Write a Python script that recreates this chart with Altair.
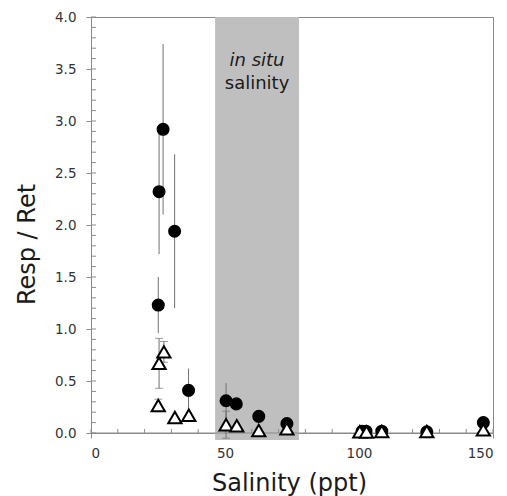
import altair as alt
import pandas as pd

# Filled circles (Resp/Ret) with symmetric error
circ_x = [26.9, 25.4, 31.2, 25.1, 36.4, 50.4, 54.2, 62.6, 73.1, 101.2, 102.6, 108.5, 125.3, 146.4]
circ_y = [2.92, 2.32, 1.94, 1.23, 0.41, 0.31, 0.28, 0.16, 0.09, 0.017, 0.017, 0.017, 0.012, 0.10]
circ_e = [0.82, 0.60, 0.74, 0.27, 0.21, 0.17, 0, 0, 0, 0, 0, 0, 0, 0]

# Open triangles with symmetric error
tri_x = [25.4, 27.2, 25.1, 31.3, 36.5, 50.4, 54.4, 62.6, 73.1, 100.3, 102.8, 108.5, 125.3, 146.4]
tri_y = [0.67, 0.78, 0.265, 0.15, 0.17, 0.08, 0.07, 0.025, 0.04, 0.012, 0.01, 0.015, 0.015, 0.03]
tri_e = [0.24, 0.10, 0.06, 0, 0, 0.13, 0, 0, 0, 0, 0, 0, 0, 0]

# Shaded "in situ salinity" band
shade_lo, shade_hi = 46.3, 77.6

y_major = [0, 0.5, 1.0, 1.5, 2.0, 2.5, 3.0, 3.5, 4.0]
y_minor = [round(i * 0.1, 1) for i in range(0, 41)]
x_major = [0, 50, 100, 150]
x_minor = list(range(0, 151, 10))

W, H = 402, 416
FONT = "DejaVu Sans"
AX = "#8a8a8a"
EB = "#707070"

dc = pd.DataFrame({"x": circ_x, "y": circ_y, "e": circ_e})
dc["lo"] = dc["y"] - dc["e"]
dc["hi"] = dc["y"] + dc["e"]
dce = dc[dc["e"] > 0]

dt = pd.DataFrame({"x": tri_x, "y": tri_y, "e": tri_e})
dt["lo"] = dt["y"] - dt["e"]
dt["hi"] = dt["y"] + dt["e"]
dte = dt[dt["e"] > 0]

xs = alt.Scale(domain=[0, 150], nice=False)
ys = alt.Scale(domain=[0, 4], nice=False)

xaxis = alt.Axis(values=x_major, grid=False, tickSize=5, domainColor=AX, tickColor=AX,
                 labelFont=FONT, labelFontSize=13.5, labelColor="#333333", labelPadding=8,
                 title="Salinity (ppt)", titleFont=FONT, titleFontSize=24, titleFontWeight="normal",
                 titleColor="#1a1a1a", titleX=198, titleY=57, titleBaseline="alphabetic")
yaxis = alt.Axis(values=y_major, format=".1f", grid=False, tickSize=5, domainColor=AX, tickColor=AX,
                 labelFont=FONT, labelFontSize=13.5, labelColor="#333333", labelPadding=10,
                 title="Resp / Ret", titleFont=FONT, titleFontSize=24, titleFontWeight="normal",
                 titleColor="#1a1a1a", titleX=-57, titleY=227, titleAngle=-90, titleBaseline="alphabetic")

band = alt.Chart(pd.DataFrame({"a": [shade_lo], "b": [shade_hi]})).mark_rect(color="#bfbfbf").encode(
    x=alt.X("a:Q", scale=xs, axis=xaxis), x2="b:Q",
    y=alt.value(0), y2=alt.value(H + 7))

mid = pd.DataFrame({"x": [(shade_lo + shade_hi) / 2]})
t1 = alt.Chart(mid).mark_text(text="in situ", font=FONT, fontSize=18, fontStyle="italic",
                              color="#1a1a1a", baseline="alphabetic").encode(
    x=alt.X("x:Q", scale=xs), y=alt.value(49))
t2 = alt.Chart(mid).mark_text(text="salinity", font=FONT, fontSize=18,
                              color="#1a1a1a", baseline="alphabetic").encode(
    x=alt.X("x:Q", scale=xs), y=alt.value(72))

baseline = alt.Chart(pd.DataFrame({"y": [0]})).mark_rule(color=AX, strokeWidth=1).encode(
    y=alt.Y("y:Q", scale=ys, axis=yaxis), x=alt.value(0), x2=alt.value(W))

yt = alt.Chart(pd.DataFrame({"v": y_minor})).mark_rule(color=AX).encode(
    y=alt.Y("v:Q", scale=ys), x=alt.value(0), x2=alt.value(5))
xt = alt.Chart(pd.DataFrame({"v": x_minor})).mark_rule(color=AX).encode(
    x=alt.X("v:Q", scale=xs), y=alt.value(H), y2=alt.value(H - 4))

ceb = alt.Chart(dce).mark_rule(color=EB, strokeWidth=1).encode(
    x=alt.X("x:Q", scale=xs), y=alt.Y("lo:Q", scale=ys), y2="hi:Q")
circles = alt.Chart(dc).mark_point(shape="circle", filled=True, color="black", size=170, opacity=1).encode(
    x=alt.X("x:Q", scale=xs), y=alt.Y("y:Q", scale=ys))

teb = alt.Chart(dte).mark_rule(color=EB, strokeWidth=1).encode(
    x=alt.X("x:Q", scale=xs), y=alt.Y("lo:Q", scale=ys), y2="hi:Q")
tcap_lo = alt.Chart(dte).mark_tick(color=EB, orient="horizontal", size=8, thickness=1).encode(
    x=alt.X("x:Q", scale=xs), y=alt.Y("lo:Q", scale=ys))
tcap_hi = alt.Chart(dte).mark_tick(color=EB, orient="horizontal", size=8, thickness=1).encode(
    x=alt.X("x:Q", scale=xs), y=alt.Y("hi:Q", scale=ys))
tris = alt.Chart(dt).mark_point(shape="triangle-up", filled=True, fill="white", stroke="black",
                                strokeWidth=2, size=175, opacity=1).encode(
    x=alt.X("x:Q", scale=xs), y=alt.Y("y:Q", scale=ys))

chart = alt.layer(band, t1, t2, baseline, yt, xt, ceb, circles, teb, tcap_lo, tcap_hi, tris).properties(
    width=W, height=H,
    autosize=alt.AutoSizeParams(type="none"),
    padding={"left": 91, "top": 17, "right": 14, "bottom": 63},
    background="white",
).configure_view(stroke=AX, strokeWidth=1)

chart.save("out.html", embed_options={"renderer": "svg", "actions": False})
